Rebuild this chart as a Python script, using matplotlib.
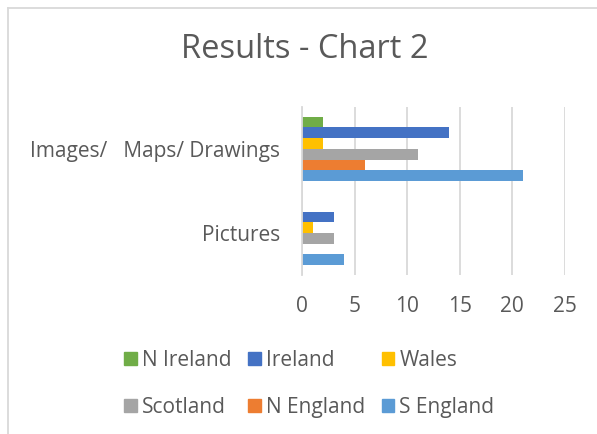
import matplotlib
matplotlib.use("Agg")
import matplotlib.pyplot as plt
from matplotlib.lines import Line2D
from matplotlib.patches import Patch
import numpy as np

plt.rcParams["font.family"] = ["Open Sans", "DejaVu Sans"]

categories = ["Images/   Maps/ Drawings", "Pictures"]
series = ["N Ireland", "Ireland", "Wales", "Scotland", "N England", "S England"]
colors = ["#70AD47", "#4472C4", "#FFC000", "#A5A5A5", "#ED7D31", "#5B9BD5"]
values = {
    "N Ireland": [2, 0],
    "Ireland":   [14, 3],
    "Wales":     [2, 1],
    "Scotland":  [11, 3],
    "N England": [6, 0],
    "S England": [21, 4],
}
xticks = [0, 5, 10, 15, 20, 25]

TXT = "#595959"
GRID = "#D9D9D9"

fig = plt.figure(figsize=(5.97, 4.34), dpi=100)
ax = fig.add_axes([0.506, 0.366, 0.44, 0.388])

# category 0 on top; series stacked downward inside each group
ypos = np.array([1.0, 0.0])
bh = 0.127
n = len(series)
for i, s in enumerate(series):
    off = (n - 1) / 2 * bh - i * bh
    ax.barh(ypos + off, values[s], height=bh, color=colors[i], label=s)

ax.set_xlim(0, 25)
ax.set_ylim(-0.5, 1.5)
ax.set_xticks(xticks)
ax.set_yticks(ypos)
ax.set_yticklabels(categories)
ax.tick_params(length=0, labelsize=15, labelcolor=TXT)
ax.tick_params(axis="x", pad=15)
ax.tick_params(axis="y", pad=16)
ax.grid(axis="x", color=GRID, lw=1.3)
ax.set_axisbelow(True)
for side in ("top", "right", "bottom"):
    ax.spines[side].set_visible(False)
ax.spines["left"].set_color(GRID)
ax.spines["left"].set_linewidth(1.3)

fig.text(0.51, 0.885, "Results - Chart 2", ha="center", va="center",
         fontsize=23.5, color=TXT)

# legend laid out row by row, three per row
order = [0, 3, 1, 4, 2, 5]
handles = [Patch(color=colors[k]) for k in order]
labels = [series[k] for k in order]
fig.legend(handles, labels, loc="center", bbox_to_anchor=(0.518, 0.116),
           ncol=3, frameon=False, fontsize=15, labelcolor=TXT,
           handlelength=0.6, handleheight=0.6, handletextpad=0.25,
           columnspacing=0.8, labelspacing=1.25)

# outer chart border
x0 = 7.5 / 597
y0 = 1 - 7.5 / 434
fig.add_artist(Line2D([x0, x0], [0, y0], transform=fig.transFigure, color=GRID, lw=1.3))
fig.add_artist(Line2D([x0, 1], [y0, y0], transform=fig.transFigure, color=GRID, lw=1.3))

fig.savefig("out.png", dpi=100)
